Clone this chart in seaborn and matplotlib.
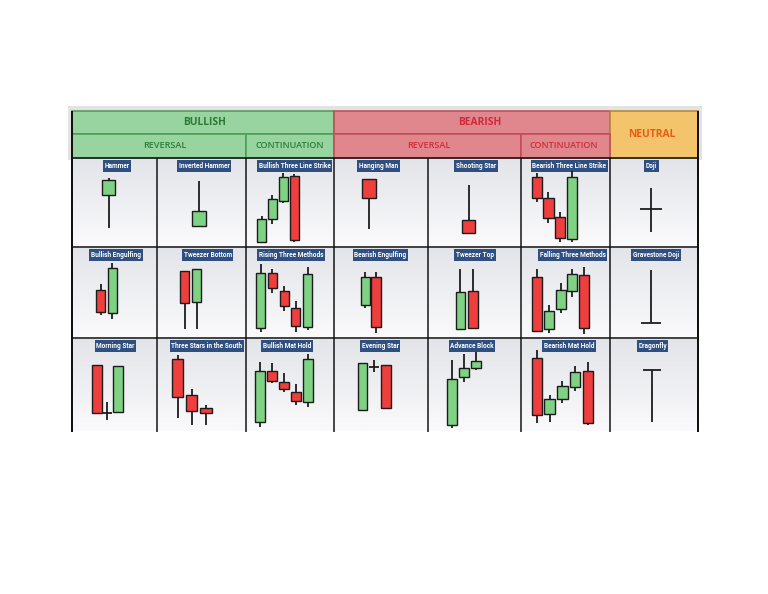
"""
Candlestick pattern cheat sheet: bullish / bearish / neutral patterns.
"""

import matplotlib.pyplot as plt
import matplotlib.patches as mpatches
import numpy as np
import seaborn as sns

sns.set_style("white")

# Colors
GREEN = "#7fd184"
RED = "#ef3e3e"
EDGE = "#1c1c1c"
LABEL_BG = "#2f4f80"

# Header texts
HEADER_TOP = ["BULLISH", "BEARISH", "NEUTRAL"]
HEADER_SUB = ["REVERSAL", "CONTINUATION", "REVERSAL", "CONTINUATION"]

# Pattern names, one row of the sheet per list
ROW1_NAMES = ["Hammer", "Inverted Hammer", "Bullish Three Line Strike", "Hanging Man",
              "Shooting Star", "Bearish Three Line Strike", "Doji"]
ROW2_NAMES = ["Bullish Engulfing", "Tweezer Bottom", "Rising Three Methods", "Bearish Engulfing",
              "Tweezer Top", "Falling Three Methods", "Gravestone Doji"]
ROW3_NAMES = ["Morning Star", "Three Stars in the South", "Bullish Mat Hold", "Evening Star",
              "Advance Block", "Bearish Mat Hold", "Dragonfly"]

# Candles as (open, high, low, close)
HAMMER = [(51.5, 68.8, 18.2, 66.2)]
INVERTED_HAMMER = [(20.8, 65.5, 20.8, 35.5)]
BULLISH_THREE_LINE_STRIKE = [(4.8, 30.8, 3.2, 27.2), (27.2, 51.5, 22.5, 47.2),
                             (45.8, 73.8, 43.2, 69.5), (70.5, 72.5, 4.2, 6.5)]
HANGING_MAN = [(67.5, 67.5, 17.2, 48.8)]
SHOOTING_STAR = [(26.5, 61.5, 13.2, 13.2)]
BEARISH_THREE_LINE_STRIKE = [(69.2, 73.5, 44.8, 48.8), (48.2, 54.2, 23.2, 28.2),
                             (29.2, 34.2, 4.8, 8.2), (7.5, 75.5, 4.2, 69.8)]
DOJI = [(37.5, 58.8, 14.2, 37.5)]

BULLISH_ENGULFING = [(47.5, 53.2, 22.5, 25.8), (24.8, 74.2, 18.5, 69.2)]
TWEEZER_BOTTOM = [(66.8, 66.8, 8.5, 34.2), (35.2, 68.2, 8.5, 68.2)]
RISING_THREE_METHODS = [(9.2, 73.2, 5.2, 64.2), (64.2, 68.5, 44.2, 49.2), (46.8, 51.5, 26.5, 31.5),
                        (29.8, 36.5, 5.8, 11.5), (10.5, 70.2, 7.5, 63.5)]
BEARISH_ENGULFING = [(32.5, 65.8, 29.2, 60.2), (60.2, 65.8, 4.2, 10.2)]
TWEEZER_TOP = [(8.5, 68.5, 8.5, 45.8), (46.5, 68.5, 9.8, 9.8)]
FALLING_THREE_METHODS = [(60.8, 68.5, 5.2, 6.8), (8.5, 32.5, 4.2, 26.8), (28.2, 54.2, 24.2, 47.5),
                         (46.8, 68.5, 40.8, 63.2), (62.5, 70.2, 3.2, 9.2)]
GRAVESTONE_DOJI = [(14.2, 67.5, 14.2, 14.2)]

MORNING_STAR = [(66.0, 66.0, 18.3, 18.3), (18.3, 28.7, 11.0, 18.3), (18.7, 65.3, 18.7, 65.3)]
THREE_STARS_SOUTH = [(72.0, 76.0, 13.3, 34.3), (36.0, 42.0, 6.0, 20.0), (23.3, 26.0, 6.0, 18.3)]
BULLISH_MAT_HOLD = [(8.7, 68.7, 4.3, 60.3), (60.3, 67.7, 48.3, 50.3), (49.3, 57.7, 39.3, 41.7),
                    (38.7, 46.7, 26.0, 30.3), (29.3, 76.7, 24.3, 71.7)]
EVENING_STAR = [(21.0, 67.7, 21.0, 67.7), (64.3, 71.0, 59.3, 64.3), (66.0, 66.0, 22.7, 22.7)]
ADVANCE_BLOCK = [(6.0, 71.0, 2.7, 52.0), (54.3, 77.0, 49.3, 62.7), (62.7, 79.3, 61.0, 70.3)]
BEARISH_MAT_HOLD = [(72.7, 81.0, 7.7, 16.0), (17.0, 36.0, 8.7, 31.7), (31.7, 50.0, 28.3, 45.0),
                    (44.3, 65.3, 40.0, 59.3), (60.0, 69.3, 6.0, 7.7)]
DRAGONFLY = [(61.0, 61.0, 8.7, 61.0)]

ROW1 = [HAMMER, INVERTED_HAMMER, BULLISH_THREE_LINE_STRIKE, HANGING_MAN,
        SHOOTING_STAR, BEARISH_THREE_LINE_STRIKE, DOJI]
ROW2 = [BULLISH_ENGULFING, TWEEZER_BOTTOM, RISING_THREE_METHODS, BEARISH_ENGULFING,
        TWEEZER_TOP, FALLING_THREE_METHODS, GRAVESTONE_DOJI]
ROW3 = [MORNING_STAR, THREE_STARS_SOUTH, BULLISH_MAT_HOLD, EVENING_STAR,
        ADVANCE_BLOCK, BEARISH_MAT_HOLD, DRAGONFLY]

# Layout in pixels (figure is 768 x 594)
W, H = 768, 594
COLS = [72, 157, 246, 334, 428, 521, 610, 698]
ROWS = [158, 246.5, 337.5, 431]

# per cell: first candle centre x, spacing, body width
CANDLE_LAYOUT = [
    [(108.5, 10, 13.6), (198.9, 10, 13.7), (261.5, 10.9, 8.6), (369.2, 10, 13.7),
     (468.5, 10, 13.6), (536.7, 11.7, 10.2), (651.0, 10, 21.7)],
    [(100.5, 11.8, 9.0), (184.8, 11.9, 9.0), (260.5, 11.8, 9.0), (365.3, 10.9, 9.5),
     (460.2, 12.8, 9.2), (537.0, 11.8, 10.0), (651.0, 10, 19.4)],
    [(96.5, 10.9, 10.0), (177.5, 14.2, 11.5), (260.0, 12.0, 10.5), (362.5, 11.7, 9.5),
     (452.2, 12.0, 10.5), (536.8, 12.8, 10.5), (651.7, 10, 18.4)],
]

# label centre x per cell, label centre y per row
LABEL_X = [
    [116.7, 204.0, 294.8, 378.3, 476.0, 569.3, 651.7],
    [116.0, 207.7, 291.3, 380.5, 475.0, 572.5, 656.0],
    [115.5, 206.7, 286.8, 380.0, 472.0, 569.3, 652.5],
]
LABEL_Y = [166.0, 255.0, 346.0]


def px_lw(px):
    return px * 72 / 100


def draw_candles(ax, candles, step, width):
    w = width / step
    for i, (o, h, l, c) in enumerate(candles):
        if h > l:
            ax.vlines(i, l, h, color=EDGE, linewidth=px_lw(1.8), zorder=1)
        if o == c:
            ax.hlines(o, i - w / 2, i + w / 2, color=EDGE, linewidth=px_lw(1.8), zorder=2)
        else:
            ax.bar(i, abs(c - o), bottom=min(o, c), width=w,
                   color=GREEN if c > o else RED, edgecolor=EDGE,
                   linewidth=px_lw(1.4), zorder=2)


fig = plt.figure(figsize=(W / 100, H / 100), dpi=100)
bg = fig.add_axes([0, 0, 1, 1])
bg.set_xlim(0, W)
bg.set_ylim(H, 0)
bg.axis("off")

# light frame behind the header
bg.add_patch(mpatches.Rectangle((68, 106), 634, 54, facecolor="#e3e3e3", edgecolor="none", zorder=0))

# cell gradients
grad = np.linspace(0, 1, 64).reshape(-1, 1)
for r in range(3):
    for c in range(7):
        bg.imshow(grad, cmap=sns.blend_palette(["#e3e4e9", "#fafafc"], as_cmap=True),
                  extent=(COLS[c], COLS[c + 1], ROWS[r + 1], ROWS[r]),
                  aspect="auto", zorder=1, interpolation="bilinear")

# header boxes
hdr_font = dict(family="Open Sans", fontweight="bold")
top_boxes = [(72, 334, 111, 134, "#98d4a0", "#4f9d59", "#2b7a35"),
             (334, 610, 111, 134, "#e0868d", "#c04d58", "#d02a3a"),
             (610, 698, 111, 158, "#f3c46c", "#b3873c", "#ea5a16")]
top_text_x = [205, 480, 652]
for (x0, x1, y0, y1, fc, ec, tc), name, tx in zip(top_boxes, HEADER_TOP, top_text_x):
    bg.add_patch(mpatches.Rectangle((x0, y0), x1 - x0, y1 - y0, facecolor=fc, edgecolor=ec,
                                    linewidth=px_lw(1.6), zorder=2))
    bg.text(tx, (y0 + y1) / 2, name, color=tc, ha="center", va="center",
            fontsize=7.4, zorder=3, **hdr_font)

sub_boxes = [(72, 246, "#98d4a0", "#4f9d59", "#2b7a35"),
             (246, 334, "#98d4a0", "#4f9d59", "#2b7a35"),
             (334, 521, "#e0868d", "#c04d58", "#d02a3a"),
             (521, 610, "#e0868d", "#c04d58", "#d02a3a")]
sub_text_x = [165, 289.5, 428.5, 564]
for (x0, x1, fc, ec, tc), name, tx in zip(sub_boxes, HEADER_SUB, sub_text_x):
    bg.add_patch(mpatches.Rectangle((x0, 134), x1 - x0, 24, facecolor=fc, edgecolor=ec,
                                    linewidth=px_lw(1.6), zorder=2))
    bg.text(tx, 146, name, color=tc, ha="center", va="center", fontsize=6.5,
            zorder=3, family="Open Sans", fontweight="semibold")

# grid lines
for i, x in enumerate(COLS):
    outer = i in (0, len(COLS) - 1)
    bg.vlines(x, 111 if outer else 158, 432, color="#111111",
              linewidth=px_lw(2.0 if outer else 1.5), zorder=4)
for y in ROWS[:-1]:
    bg.hlines(y, COLS[0], COLS[-1], color="#111111", linewidth=px_lw(1.5), zorder=4)

# candle cells and labels
for r, (names, row) in enumerate(zip([ROW1_NAMES, ROW2_NAMES, ROW3_NAMES], [ROW1, ROW2, ROW3])):
    top, bottom = ROWS[r], ROWS[r + 1]
    for c, (name, candles) in enumerate(zip(names, row)):
        left, right = COLS[c], COLS[c + 1]
        x0, step, width = CANDLE_LAYOUT[r][c]
        ax = fig.add_axes([left / W, 1 - bottom / H, (right - left) / W, (bottom - top) / H])
        ax.patch.set_alpha(0)
        draw_candles(ax, candles, step, width)
        ax.set_xlim((left - x0) / step, (right - x0) / step)
        ax.set_ylim(0, bottom - top)
        ax.axis("off")

        bg.text(LABEL_X[r][c], LABEL_Y[r], name, color="white", fontsize=4.7,
                fontweight="bold", family="Roboto", ha="center", va="center", zorder=10,
                bbox=dict(boxstyle="square,pad=0.25", facecolor=LABEL_BG, edgecolor="none"))

plt.savefig("out.png", dpi=100)
